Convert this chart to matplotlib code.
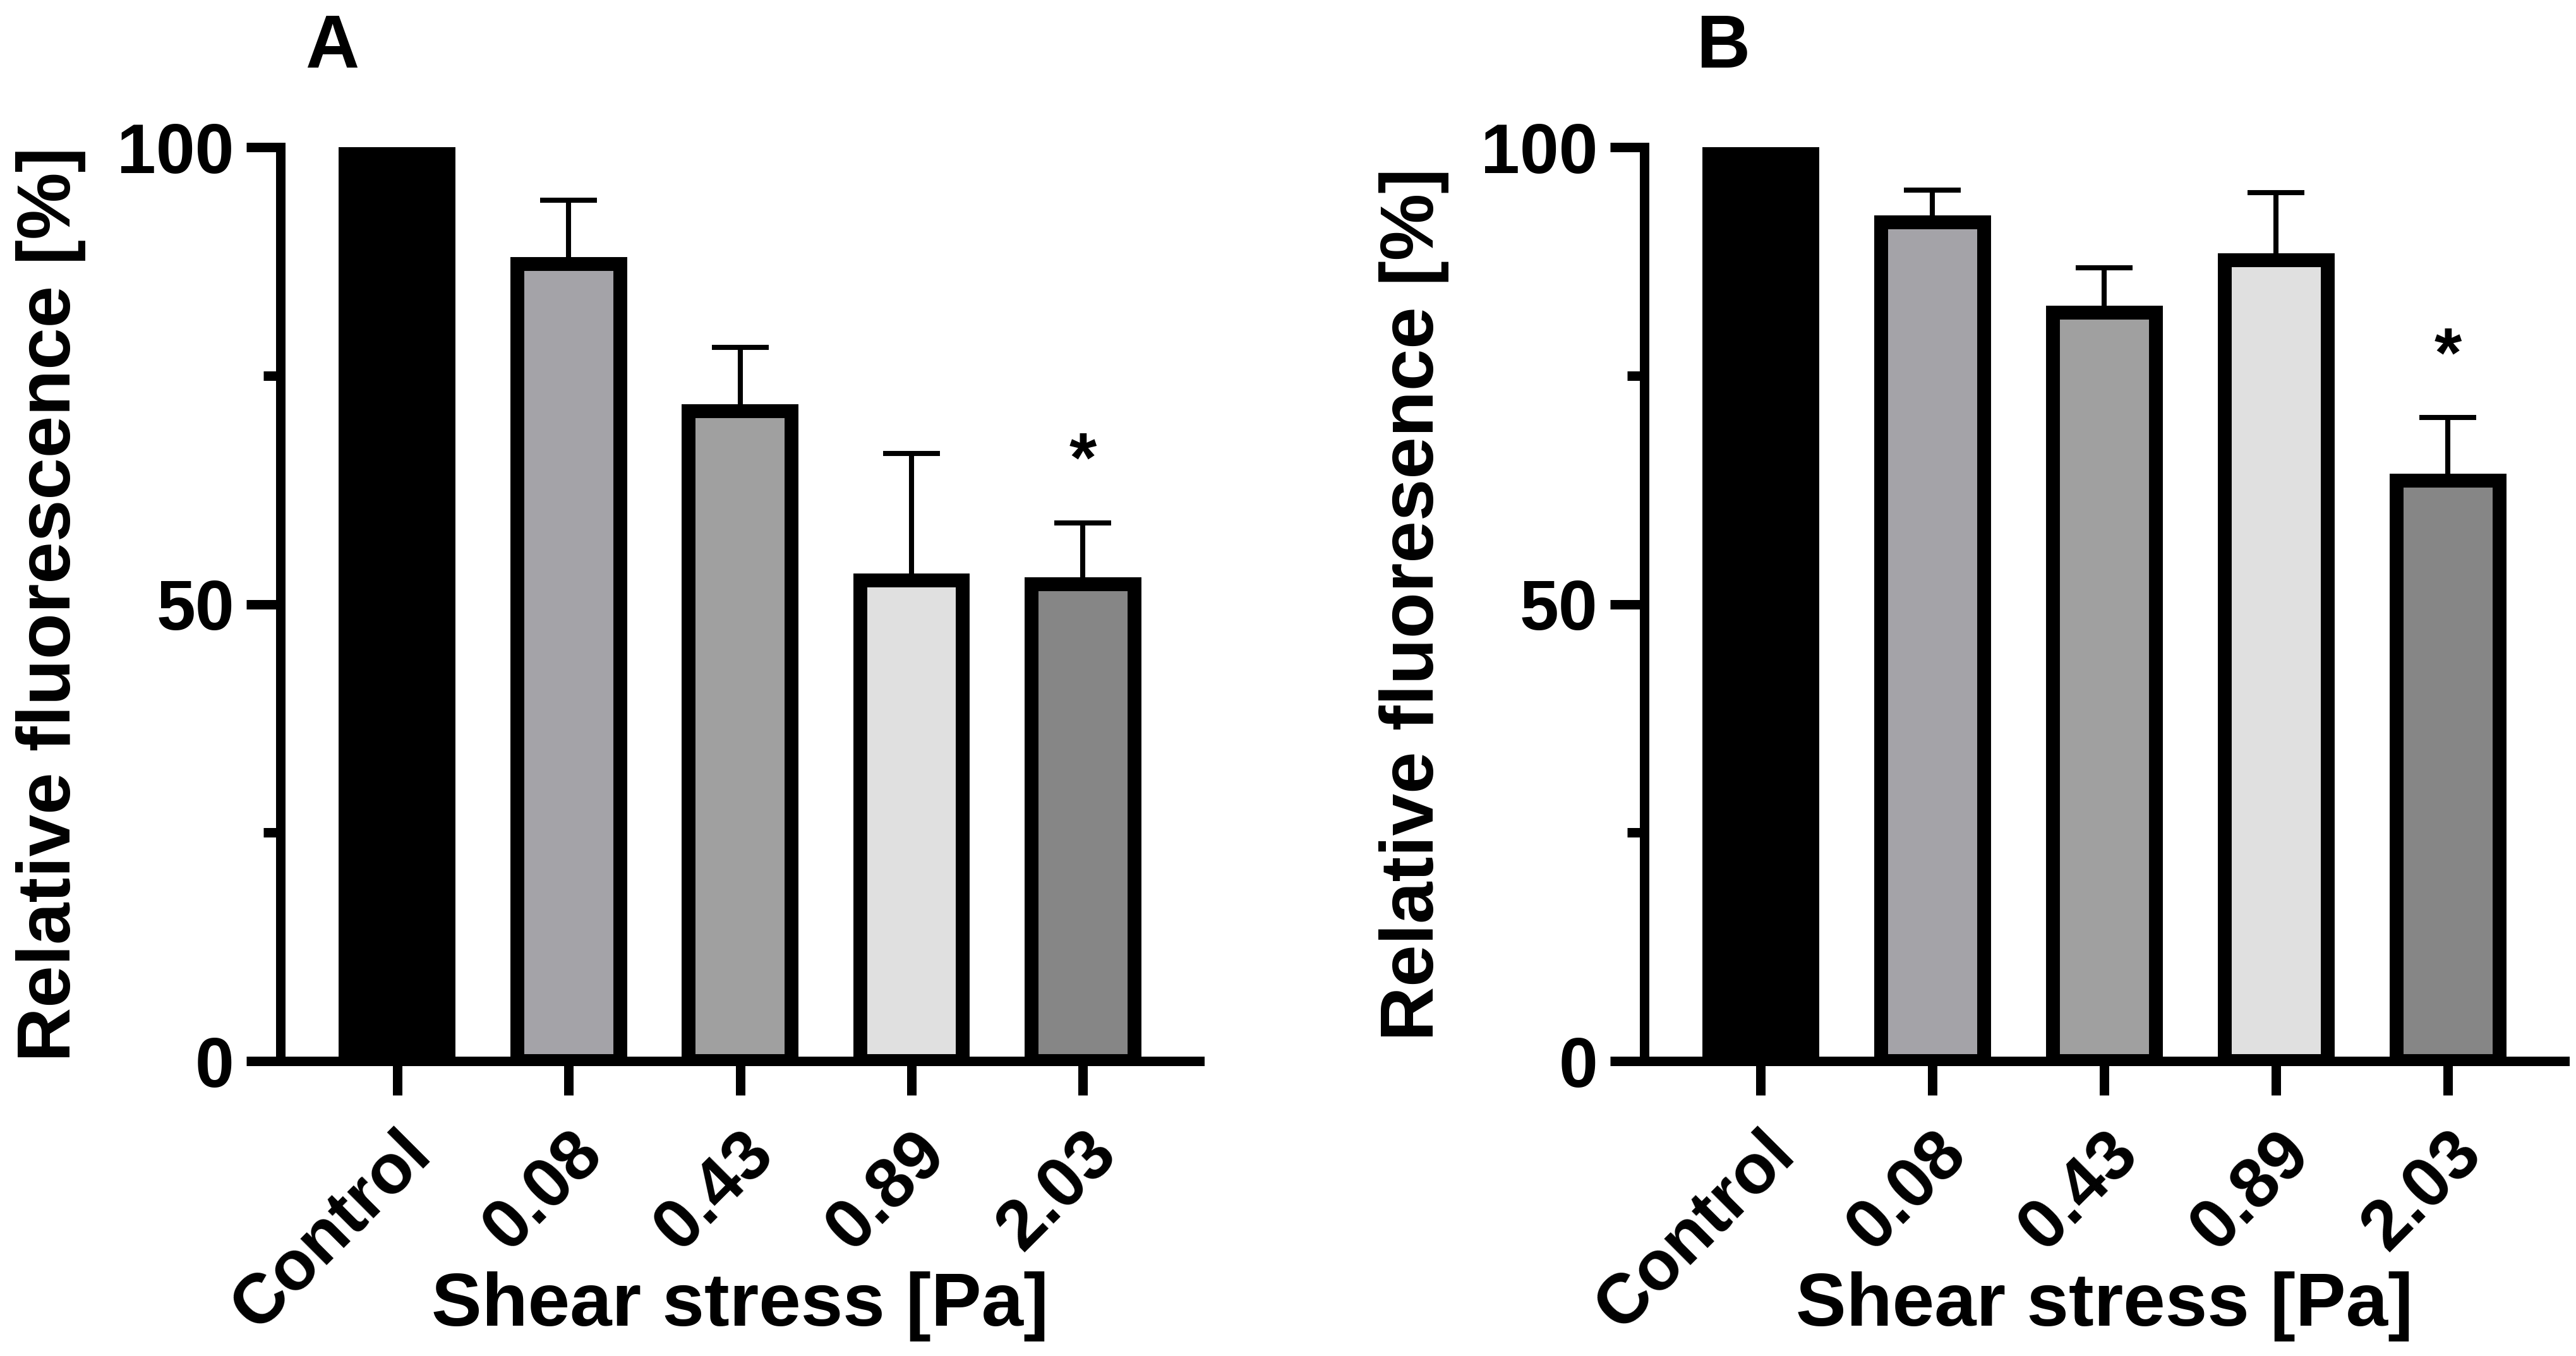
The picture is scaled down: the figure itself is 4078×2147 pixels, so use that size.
import matplotlib
matplotlib.use('Agg')
import matplotlib.pyplot as plt
from matplotlib.ticker import FixedLocator
import numpy as np

# ---------------- data ----------------
categories = ['Control', '0.08', '0.43', '0.89', '2.03']
bar_colors = ['#000000', '#a4a3a8', '#a0a0a0', '#e0e0e0', '#868686']

mean_a = [100.0, 87.2, 71.1, 52.6, 52.2]
sd_a = [0.0, 7.0, 7.0, 13.9, 6.7]
sig_a = [False, False, False, False, True]

mean_b = [100.0, 91.8, 81.9, 87.6, 63.5]
sd_b = [0.0, 3.5, 4.9, 7.4, 6.9]
sig_b = [False, False, False, False, True]

ylabel_a = 'Relative fluorescence [%]'
ylabel_b = 'Relative fluoresence [%]'
xlabel = 'Shear stress [Pa]'
panel_labels = ['A', 'B']
y_major = [0, 50, 100]
y_minor = [25, 75]

# ---------------- style ----------------
plt.rcParams['font.family'] = ['Liberation Sans', 'DejaVu Sans']
plt.rcParams['font.weight'] = 'bold'

W, H = 4078, 2147
DPI = 200
fig = plt.figure(figsize=(W / DPI, H / DPI), dpi=DPI)

LW = 5.4          # spine / tick width (pt)
EDGE = 7.9        # bar outline (pt)
ELW = 2.9         # error bar line (pt)

ax_a = fig.add_axes([0.10888, 0.21751, 0.3568, 0.67396])
ax_b = fig.add_axes([0.6382, 0.21751, 0.3574, 0.67396])


def draw(ax, means, sds, sigs, ylabel):
    x = np.arange(len(categories))
    ax.bar(x, means, width=0.6, color=bar_colors, edgecolor='black',
           linewidth=EDGE, zorder=3)
    means = np.asarray(means)
    sds = np.asarray(sds)
    m = sds > 0
    ax.errorbar(x[m], means[m], yerr=[np.zeros(m.sum()), sds[m]], fmt='none',
                ecolor='black', elinewidth=ELW, capsize=16.2, capthick=ELW,
                zorder=2)
    for xi, mu, s, sg in zip(x, means, sds, sigs):
        if sg:
            ax.text(xi, mu + s + 4.5, '*', ha='center', va='baseline',
                    fontsize=40, fontweight='bold', zorder=5)
    ax.set_xlim(-0.68, 4.68)
    ax.set_ylim(0, 100)
    ax.yaxis.set_major_locator(FixedLocator(y_major))
    ax.yaxis.set_minor_locator(FixedLocator(y_minor))
    ax.set_xticks(x)
    ax.set_xticklabels(categories, rotation=45, ha='right',
                       rotation_mode='anchor')
    for sp in ['top', 'right']:
        ax.spines[sp].set_visible(False)
    for sp in ['left', 'bottom']:
        ax.spines[sp].set_linewidth(LW)
        ax.spines[sp].set_capstyle('projecting')
        ax.spines[sp].set_zorder(4)
    ax.tick_params(axis='y', which='major', length=19.4, width=LW,
                   labelsize=40, pad=7)
    ax.tick_params(axis='y', which='minor', length=9.7, width=LW)
    ax.tick_params(axis='x', which='major', length=19.4, width=LW,
                   labelsize=40, pad=14)
    for lab in ax.get_xticklabels() + ax.get_yticklabels():
        lab.set_fontweight('bold')
    ax.set_ylabel(ylabel, fontsize=43, fontweight='bold')
    ax.yaxis.set_label_coords(-0.212, 0.5)
    ax.set_xlabel(xlabel, fontsize=43, fontweight='bold')
    ax.xaxis.set_label_coords(0.5, -0.230)


draw(ax_a, mean_a, sd_a, sig_a, ylabel_a)
draw(ax_b, mean_b, sd_b, sig_b, ylabel_b)

fig.text(0.129, 0.9502, panel_labels[0], fontsize=42.5, fontweight='bold',
         ha='center', va='baseline')
fig.text(0.669, 0.9502, panel_labels[1], fontsize=42.5, fontweight='bold',
         ha='center', va='baseline')

fig.savefig('out.png', dpi=DPI, facecolor='white')
